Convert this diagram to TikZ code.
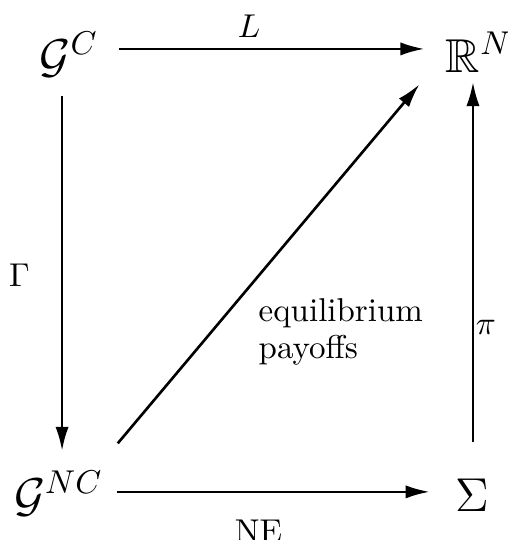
\documentclass[tikz,border=0pt]{standalone}
\usepackage{amsmath,amssymb}
\usetikzlibrary{arrows.meta}
\begin{document}
\begin{tikzpicture}[x=0.303pt,y=-0.303pt,
  obj/.style={inner sep=0pt,text height=10pt,text depth=0pt,font=\Large,anchor=base},
  lab/.style={inner sep=0pt,anchor=base},
  arr/.style={line width=0.8pt,-{Latex[length=7.3pt,width=4pt]}}]
\useasboundingbox (0,0) rectangle (508,540);
\node[obj] (gc)  at (69,72)    {$\mathcal{G}^C$};
\node[obj] (rn)  at (479,72)   {$\mathbb{R}^N$};
\node[obj] (gnc) at (58.5,511) {$\mathcal{G}^{NC}$};
\node[obj] (sg)  at (472,511)  {$\Sigma$};
% connectors
\draw[arr,shorten <=6pt,shorten >=6.3pt] ([yshift=2pt]gc.east) -- ([yshift=2pt]rn.west);
\draw[arr,shorten <=4pt,shorten >=7.5pt] ([yshift=0.8pt]gnc.east) -- ([yshift=0.8pt]sg.west);
\draw[arr,shorten <=7pt,shorten >=8pt] ([xshift=-2.1pt]gc.south) -- ([xshift=-2.1pt]gc.south |- gnc.north);
\draw[arr,shorten <=10.6pt,shorten >=2.8pt] ([xshift=0.3pt]sg.north) -- ([xshift=0.3pt]sg.north |- rn.south);
\draw[arr] ([shift={(4.3pt,10.3pt)}]gnc.north east) -- ([shift={(-7.8pt,-3.5pt)}]rn.south west);
% labels
\node[lab] (lL)  at (249,37)  {$L$};
\node[lab] (lG)  at (19.5,286) {$\Gamma$};
\node[lab] (lpi) at (486,334) {$\pi$};
\node[lab] (lNE) at (258.5,542) {NE};
\node[lab,anchor=base west,align=left] (leq) at (258,358) {equilibrium\\[-1pt]payoffs};
\end{tikzpicture}
\end{document}
